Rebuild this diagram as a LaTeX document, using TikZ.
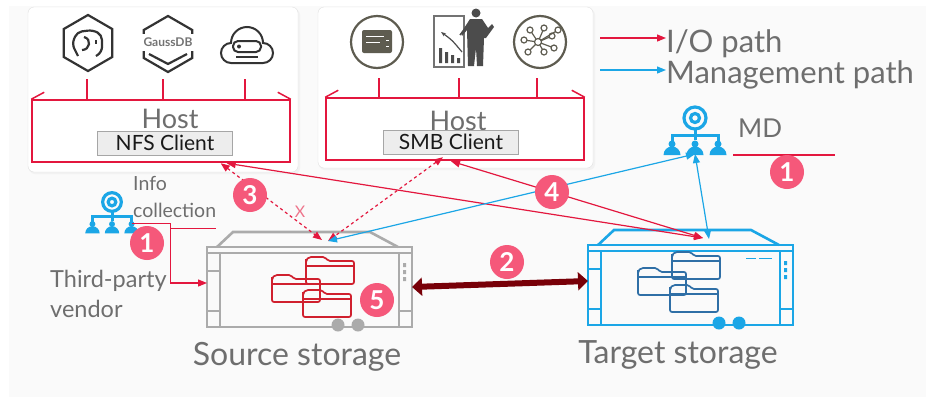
\documentclass[tikz,border=0pt]{standalone}
\usepackage{fontspec}
\setmainfont{Lato}
\usetikzlibrary{arrows.meta,calc,positioning}

\definecolor{iored}{HTML}{E3173E}
\definecolor{mgblue}{HTML}{1BA6E6}
\definecolor{syncred}{HTML}{780008}
\definecolor{badgepink}{HTML}{F5587A}
\definecolor{txtgray}{HTML}{6E6E6E}
\definecolor{devgray}{HTML}{ABABAB}
\definecolor{fldblue}{HTML}{2F6FA6}
\definecolor{fldred}{HTML}{D0202E}
\definecolor{icongray}{HTML}{5E5C50}
\definecolor{pagebg}{HTML}{FAFAFA}

\begin{document}
\begin{tikzpicture}[x=1pt, y=-1pt,
    >={Triangle[length=9pt,width=7pt]},
    every node/.style={inner sep=0pt},
    lbl/.style={text=txtgray},
    bigtxt/.style={lbl, font=\fontsize{32}{33}\selectfont},
    legtxt/.style={lbl, font=\fontsize{31}{32}\selectfont},
    sidetxt/.style={lbl, font=\fontsize{23.5}{24}\selectfont},
    smalltxt/.style={lbl, font=\fontsize{19.5}{20}\selectfont},
    badge/.style={circle, fill=badgepink, text=white, minimum size=34, font=\fontsize{26}{26}\selectfont\bfseries},
    panel/.style={fill=white, draw=black!12, rounded corners=6},
    hostbox/.style={draw=iored, line width=1.5, minimum width=258, minimum height=62},
    client/.style={draw=black!35, fill=black!7, minimum width=135, minimum height=24, text=black!90, font=\fontsize{21}{21}\selectfont},
    icon/.style={draw=black!80, line width=2.2},
    io/.style={iored, line width=1.2, <->},
    mgmt/.style={mgblue, line width=1.2, <->},
    sync/.style={syncred, line width=6, {Triangle[length=10pt,width=18pt]}-{Triangle[length=10pt,width=18pt]}},
    person/.pic={
      \draw[line width=3.2] (0,0) circle (11) (0,0) circle (4.5);
      \draw[line width=3] (0,11) -- (0,22) (-23,23) -- (-23,17) -- (23,17) -- (23,23);
      \foreach \px in {-23,0,23}{
        \fill (\px,26) circle (3.5);
        \fill (\px-8.5,37) arc[start angle=180,end angle=360,radius=8.5] -- cycle;
      }
      \coordinate (-base) at (0,36);
      \coordinate (-east) at (24,25);
    },
    folder/.pic={
      \draw[line width=1.7, rounded corners=2] (0,4) -- (0,27) -- (48,27) -- (48,4) -- (22,4) -- (19,0) -- (3,0) -- (0,3) -- cycle;
      \draw[line width=1.7] (0,9) -- (48,9);
    },
    storage/.pic={
      \begin{scope}[line width=2.6]
      \draw (0,0) rectangle (205,80);
      \draw (0,6) -- (205,6);
      \draw (13,6) -- (13,80) (192,6) -- (192,80);
      \draw (10,0) -- (26,-15) -- (163,-15) -- (191,0);
      \end{scope}
      \draw[line width=1.4] (0,24) -- (13,24) (0,64) -- (13,64) (192,64) -- (205,64);
      \fill (131,78) circle (6.5) (151,78) circle (6.5);
      \fill (196,16) rectangle (199,20) (196,23) rectangle (199,27) (196,30) rectangle (199,34);
      \coordinate (-top) at (115,-7);
      \coordinate (-topr) at (121,-6);
      \coordinate (-west) at (0,36);
      \coordinate (-east) at (205,40);
    }]

    \useasboundingbox (0,0) rectangle (933,397);
    \fill[white] (0,0) rectangle (933,397);
    \fill[pagebg] (9,6) rectangle (926,397);

    % host panels
    \fill[black!5, rounded corners=6] (29,9) rectangle (300,174);
    \fill[black!5, rounded corners=6] (319,9) rectangle (595,170);
    \draw[panel] (28,7) rectangle (298,172);
    \draw[panel] (318,7) rectangle (593,168);

    \node[hostbox] (host1) at (161,131) {};
    \node[hostbox] (host2) at (455,129) {};
    \draw[iored, line width=1.5] (host1.north west) -- ++(13,-7) (host1.north east) -- ++(-13,-7);
    \draw[iored, line width=1.5] (host2.north west) -- ++(13,-7) (host2.north east) -- ++(-13,-7);

    \node[lbl, font=\fontsize{27}{27}\selectfont, anchor=base] (host1-t) at (170,128) {Host};
    \node[lbl, font=\fontsize{27}{27}\selectfont, anchor=base] (host2-t) at (458,130) {Host};
    \node[client] (nfs) at (165,143) {NFS Client};
    \node[client] (smb) at (451,142) {SMB Client};

    % application icons, left host
    \draw[icon] (88,43) +(90:28) -- +(30:28) -- +(-30:28) -- +(-90:28) -- +(-150:28) -- +(150:28) -- cycle;
    \draw[icon, line width=2.2, rounded corners=5] (78,56) -- (72,44) -- (77,32) -- (93,30) -- (102,35) -- (102,52) -- (96,56);
    \draw[icon, line width=2.2] (84,37) .. controls (92,39) and (90,50) .. (82,50);
    \draw[icon, line width=2] (96,40) -- (96,44);

    \draw[icon] (168,44) +(90:28) -- +(30:28) -- +(-30:28) -- +(-90:28) -- +(-150:28) -- +(150:28) -- cycle;
    \fill[white] (138,34) rectangle (198,51);
    \node[font=\fontsize{12}{12}\selectfont\bfseries, text=black!55] (gauss) at (168,42) {GaussDB};
    \draw[icon] (149,54) -- (168,64) -- (187,54);

    \draw[icon, line width=2] (231,63) arc[start angle=90,end angle=270,radius=10]
        arc[start angle=180,end angle=360,radius=16] arc[start angle=270,end angle=450,radius=10] -- cycle;
    \draw[icon, line width=2, rounded corners=5] (233,41) rectangle (261,52);
    \fill[black!80] (239,46.5) circle (2);
    \draw[icon, line width=2] (236,57) -- (258,57);

    % application icons, right host
    \draw[icongray, line width=2.2] (377,42) circle (26);
    \fill[icongray, rounded corners=2] (362,30) rectangle (392,53);
    \draw[white, line width=1] (366,36) -- (384,36) (366,42) -- (380,42) (386,40) -- (389,40) (386,46) -- (389,46);

    \draw[black!55, line width=2] (434,16) rectangle (464,67);
    \fill[black!70] (439,48) rectangle (442,63) (445,52) rectangle (448,63) (451,55) rectangle (454,63) (457,58) rectangle (460,63);
    \draw[black!70, line width=1.2, -{Stealth[length=5pt]}] (462,52) .. controls (452,40) .. (441,32);
    \fill[black!70] (476,13) circle (4.5);
    \fill[black!70] (470,19) -- (482,19) -- (488,28) -- (492,24) -- (494,27) -- (486,38) -- (484,38) -- (483,66) -- (477,66) -- (476,48) -- (474,66) -- (468,66) -- (467,30) -- (462,36) -- (461,33) -- cycle;
    \draw[black!70, line width=1.5] (460,35) -- (467,26);

    \draw[icongray, line width=2.2] (540,42) circle (26);
    \foreach \nx/\ny in {-14/-2, -8/-12, 6/-14, 14/-6, 16/6, 6/10, -10/10, 20/-12} {
      \draw[icongray, line width=1.2] (538,42) -- ++(\nx,\ny);
      \draw[icongray, line width=1.2, fill=white] (538,42) ++(\nx,\ny) circle (3);
    }
    \draw[icongray, line width=1.2, fill=white] (538,42) circle (3.5);

    % tie lines from apps down to the host boxes
    \foreach \tx in {87,163,245} \draw[iored, line width=1.2] (\tx,79) -- (\tx,100);
    \foreach \tx in {379,459,537} \draw[iored, line width=1.2] (\tx,78) -- (\tx,98);

    % legend
    \node[legtxt, anchor=base west] (io-lbl) at (666,52) {I/O path};
    \node[legtxt, anchor=base west] (mg-lbl) at (666,83) {Management path};
    \coordinate (io-from) at (600,38);
    \coordinate (mg-from) at (600,70);
    \draw[iored, line width=1.2, ->] (io-from) -- (io-from -| io-lbl.west);
    \draw[mgblue, line width=1.2, ->] (mg-from) -- (mg-from -| mg-lbl.west);

    % storage arrays
    \pic[devgray] (src) at (207,247) {storage};
    \pic[mgblue] (tgt) at (588,245) {storage};
    \pic[fldred] at (272,275) {folder};
    \pic[fldred] at (306,257) {folder};
    \pic[fldred] at (303,290) {folder};
    \pic[fldblue] at (638,268) {folder};
    \pic[fldblue] at (672,252) {folder};
    \pic[fldblue] at (670,285) {folder};
    \draw[mgblue, line width=1] (746,258) -- (756,258) (759,258) -- (772,258);

    \node[bigtxt, anchor=base] (src-lbl) at (297,365) {Source storage};
    \node[bigtxt, anchor=base] (tgt-lbl) at (678,363) {Target storage};

    % management nodes
    \pic[mgblue] (md) at (695,118) {person};
    \node[lbl, font=\fontsize{26}{26}\selectfont, anchor=base west] (md-lbl) at (738,137) {MD};
    \coordinate (md-line) at ($(md-lbl.base west)+(-5,18)$);
    \draw[iored, line width=1.2] (md-line) -- ++(102,0);

    \pic[mgblue, scale=.85] (info) at (112,202) {person};
    \node[smalltxt, anchor=base west] (info-lbl) at (133,190) {Info};
    \node[smalltxt, anchor=base west] (coll-lbl) at (133,217) {collection};
    \node[sidetxt, anchor=base west] (vendor-lbl) at (50,287) {Third-party};
    \node[sidetxt, anchor=base west] (vendor-lbl2) at (50,317) {vendor};

    % collection path into the source array
    \coordinate (coll-turn) at ($(info-east)+(38,5)$);
    \draw[iored, line width=1.2, ->] (info-east) -- ++(38,0) |- (src-west);
    \draw[iored, line width=1.2] (coll-turn) -- (coll-turn -| coll-lbl.east);

    % host access paths
    \coordinate (nfs-io) at ($(nfs.south east)+(-6,8)$);
    \coordinate (nfs-nas) at ($(nfs.south east)+(-12,8)$);
    \coordinate (smb-io) at ($(smb.south)+(0,7)$);
    \coordinate (smb-nas) at ($(smb.south)+(-8,3)$);

    \draw[io] (nfs-io) -- (tgt-top);
    \draw[io] (smb-io) -- (tgt-top);
    \draw[io, dashed] (nfs-nas) -- node[pos=.72, above right=1pt, text=iored!60, font=\fontsize{16}{16}\selectfont] (cut) {X} (src-top);
    \draw[io, dashed] (smb-nas) -- (src-topr);
    \draw[mgmt] (src-topr) -- (md-base);
    \draw[mgmt] (md-base) -- (tgt-topr);

    % replication link
    \draw[sync] (src-east) -- (tgt-west);

    % step markers
    \node[badge] (b1-md) at (787,172) {1};
    \node[badge] (b1-info) at (147,243) {1};
    \node[badge] (b2) at (507,262) {2};
    \node[badge] (b3) at (250,195) {3};
    \node[badge] (b4) at (552,192) {4};
    \node[badge] (b5) at (377,300) {5};
\end{tikzpicture}
\end{document}
